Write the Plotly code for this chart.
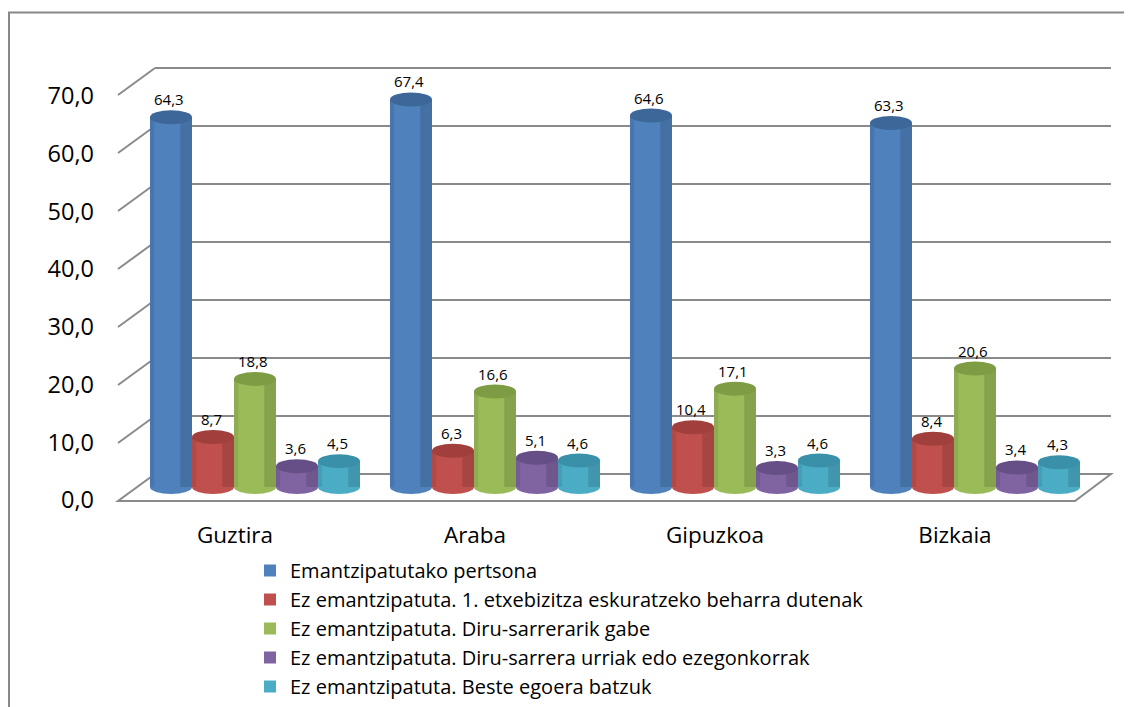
import plotly.graph_objects as go

# ---------------- data ----------------
categories = ["Guztira", "Araba", "Gipuzkoa", "Bizkaia"]
series_names = [
    "Emantzipatutako pertsona",
    "Ez emantzipatuta. 1. etxebizitza eskuratzeko beharra dutenak",
    "Ez emantzipatuta. Diru-sarrerarik gabe",
    "Ez emantzipatuta. Diru-sarrera urriak edo ezegonkorrak",
    "Ez emantzipatuta. Beste egoera batzuk",
]
emantzipatutako = [64.3, 67.4, 64.6, 63.3]
etxebizitza = [8.7, 6.3, 10.4, 8.4]
diru_gabe = [18.8, 16.6, 17.1, 20.6]
diru_urriak = [3.6, 5.1, 3.3, 3.4]
beste = [4.5, 4.6, 4.6, 4.3]
series_values = [emantzipatutako, etxebizitza, diru_gabe, diru_urriak, beste]
y_ticks = [0, 10, 20, 30, 40, 50, 60, 70]

# ---------------- style ----------------
side_colors = ["#4F81BD", "#C0504D", "#9BBB59", "#8064A2", "#4BACC6"]
cap_colors = ["#3E6799", "#A03F3C", "#7E9C44", "#664F86", "#3A90A8"]
FONT = "Open Sans"
W, H = 1132, 707
OX, OY = 8, 8  # page body margin compensation
GRID = "#8A8A8A"


def fx(px):
    return (px - OX) / W


def fy(py):
    return 1 - (py - OY) / H


# back wall geometry (pixels in the final picture)
BACK_X0, BACK_X1 = 155, 1111
BACK_Y0, BACK_Y70 = 474, 68
back_scale = (BACK_Y0 - BACK_Y70) / 70.0
FRONT_X0, FRONT_X1 = 118, 1075
DEPTH_PX = 27
depth_units = DEPTH_PX / back_scale
BACK_RMIN, BACK_RMAX = -depth_units - 1.0, 70.3

# bar plane geometry
BAR_ZERO = 487
bar_scale = 5.75
BAR_RMIN, BAR_RMAX = -2, 72

BARGAP = 0.125
n = len(series_values)
bw = (1 - BARGAP) / n
CAP_PX = 7
cap_units = CAP_PX / bar_scale

fig = go.Figure()

# invisible anchors for helper subplots
fig.add_trace(go.Scatter(x=[0], y=[None], xaxis="x", yaxis="y", mode="markers",
                         showlegend=False, hoverinfo="skip"))
fig.add_trace(go.Scatter(x=[0], y=[None], xaxis="x3", yaxis="y3", mode="markers",
                         showlegend=False, hoverinfo="skip"))

for i, (name, vals) in enumerate(zip(series_names, series_values)):
    fig.add_trace(go.Bar(
        x=categories, y=vals, name=name, xaxis="x2", yaxis="y2",
        marker=dict(color=side_colors[i], line=dict(width=0)),
        hoverinfo="skip",
    ))

shapes = []
annotations = []

# outer chart border
shapes.append(dict(type="rect", xref="paper", yref="paper",
                   x0=fx(9), x1=fx(1160), y0=fy(12.5), y1=fy(730),
                   line=dict(color="#888888", width=2), fillcolor="rgba(0,0,0,0)",
                   layer="below"))

# floor
floor_path = (f"M {fx(FRONT_X0):.6f},{-depth_units:.4f} L {fx(FRONT_X1):.6f},{-depth_units:.4f} "
              f"L {fx(BACK_X1):.6f},0 L {fx(BACK_X0):.6f},0 Z")
shapes.append(dict(type="path", xref="paper", yref="y", path=floor_path,
                   fillcolor="white", line=dict(color=GRID, width=2), layer="between"))

# side-wall diagonals
for v in y_ticks[1:]:
    shapes.append(dict(type="line", xref="paper", yref="y",
                       x0=fx(FRONT_X0), y0=v - depth_units, x1=fx(BACK_X0), y1=v,
                       line=dict(color=GRID, width=2), layer="between"))

# cylinder caps, shading and value labels
for i, vals in enumerate(series_values):
    off = -(1 - BARGAP) / 2 + bw * (i + 0.5)
    for g, v in enumerate(vals):
        c = g + off
        shapes.append(dict(type="circle", xref="x2", yref="y2",
                           x0=c - bw / 2, x1=c + bw / 2, y0=-cap_units, y1=cap_units,
                           fillcolor=side_colors[i], line=dict(width=0), layer="above"))
        shapes.append(dict(type="rect", xref="x2", yref="y2",
                           x0=c + bw * 0.22, x1=c + bw / 2, y0=0, y1=v,
                           fillcolor="rgba(0,0,0,0.13)", line=dict(width=0), layer="above"))
        shapes.append(dict(type="rect", xref="x2", yref="y2",
                           x0=c - bw / 2, x1=c - bw * 0.40, y0=0, y1=v,
                           fillcolor="rgba(0,0,0,0.08)", line=dict(width=0), layer="above"))
        shapes.append(dict(type="circle", xref="x2", yref="y2",
                           x0=c - bw / 2, x1=c + bw / 2, y0=v - cap_units, y1=v + cap_units,
                           fillcolor=cap_colors[i], line=dict(width=0), layer="above"))
        annotations.append(dict(xref="x2", yref="y2", x=c, y=v,
                                text=f"{v:.1f}".replace(".", ","), showarrow=False,
                                yshift=18, xshift=-2,
                                font=dict(family=FONT, size=15, color="#000000")))

fig.update_layout(
    width=W, height=H,
    margin=dict(l=0, r=0, t=0, b=0, autoexpand=False),
    paper_bgcolor="white", plot_bgcolor="rgba(0,0,0,0)",
    barmode="group", bargap=BARGAP, bargroupgap=0,
    font=dict(family=FONT, color="#000000"),
    showlegend=True,
    legend=dict(x=fx(250), y=fy(551), xanchor="left", yanchor="top",
                font=dict(family=FONT, size=20, color="#000000"),
                bgcolor="rgba(0,0,0,0)", tracegroupgap=0),
    xaxis=dict(domain=[fx(BACK_X0), fx(BACK_X1)], range=[0, 1], visible=False,
               anchor="y", automargin=False),
    yaxis=dict(domain=[fy(BACK_Y0 - BACK_RMIN * back_scale), fy(BACK_Y0 - BACK_RMAX * back_scale)],
               range=[BACK_RMIN, BACK_RMAX],
               tickvals=y_ticks, showticklabels=False, ticks="",
               showgrid=True, gridcolor=GRID, gridwidth=2, zeroline=False,
               showline=False, anchor="x", automargin=False),
    xaxis2=dict(domain=[fx(135), fx(1095)], range=[-0.5, 3.5], type="category",
                visible=False, anchor="y2", automargin=False),
    yaxis2=dict(domain=[fy(BAR_ZERO - BAR_RMIN * bar_scale), fy(BAR_ZERO - BAR_RMAX * bar_scale)],
                range=[BAR_RMIN, BAR_RMAX], visible=False, anchor="x2", automargin=False),
    xaxis3=dict(domain=[fx(115), fx(1075)], range=[-0.5, 3.5],
                tickvals=list(range(len(categories))), ticktext=categories,
                ticks="", showgrid=False, zeroline=False, showline=False,
                tickfont=dict(family=FONT, size=22.5, color="#000000"),
                ticklabelstandoff=19, anchor="y3", automargin=False),
    yaxis3=dict(domain=[fy(500), fy(96)], range=[0, 70], tickvals=y_ticks,
                tickformat=".1f", ticks="", showgrid=False, zeroline=False,
                showline=False, tickfont=dict(family=FONT, size=23.5, color="#000000"),
                ticklabelstandoff=20, anchor="x3", automargin=False),
    separators=", ",
    shapes=shapes,
    annotations=annotations,
)

fig.write_html("out.html")
